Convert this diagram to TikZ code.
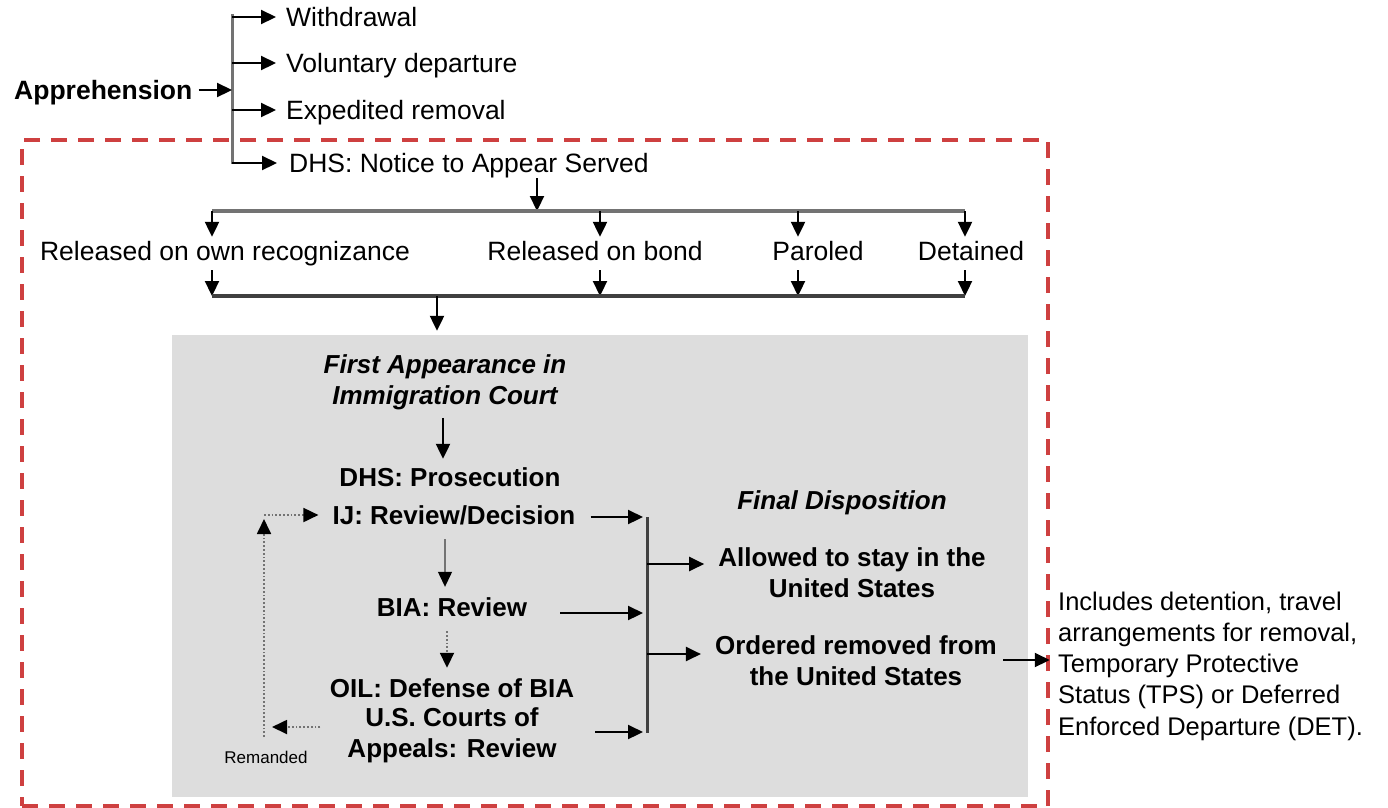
\documentclass[tikz,border=0pt]{standalone}
\usepackage{fontspec}
\setmainfont{Liberation Sans}
\usetikzlibrary{arrows.meta,calc}
\definecolor{scopered}{RGB}{206,64,64}
\definecolor{boxgray}{RGB}{221,221,221}
\begin{document}
\begin{tikzpicture}[x=1pt,y=-1pt,
  fixh/.style={text height=19pt,text depth=1pt},
  txt/.style={inner sep=0pt,fixh,font=\fontsize{26.5}{31}\selectfont},
  btxt/.style={inner sep=0pt,font=\fontsize{26}{31}\selectfont\bfseries,align=center},
  itxt/.style={inner sep=0pt,font=\fontsize{26}{31}\selectfont\bfseries\itshape,align=center},
  arr/.style={line width=2.2pt,-{Triangle[length=15pt,width=14pt]}},
  thinarr/.style={line width=1.2pt,draw=black!55,-{Triangle[length=15pt,width=14pt,color=black]}},
  dotarr/.style={line width=1.8pt,draw=black!55,dotted,-{Triangle[length=15pt,width=14pt,color=black]}},
  bar/.style={line width=3.5pt,draw=black!55},
  darkbar/.style={line width=3.5pt,draw=black!75},
]
\useasboundingbox (0,0) rectangle (1388,807);

% gray court box and red dashed scope
\node[fill=boxgray,inner sep=0pt,minimum width=856pt,minimum height=462pt] (gbox) at (600,566) {};
\node[draw=scopered,line width=3.5pt,dash pattern=on 16pt off 11pt,inner sep=0pt,minimum width=1026pt,minimum height=666pt] (scopebox) at (535,473) {};

% apprehension branch
\node[inner sep=0pt,fixh,font=\fontsize{26.5}{31}\selectfont\bfseries,anchor=west] (appr) at (14,90) {Apprehension};
\coordinate (vt) at (232,14);
\coordinate (vb) at (232,164);
\coordinate (vm) at (232,90);
\draw[bar,line width=3pt] (vt) -- (vb);
\draw[arr,shorten <=6pt] (appr.east) -- (vm);
\node[txt,anchor=west] (wd) at (286,17) {Withdrawal};
\node[txt,anchor=west] (vd) at (286,63) {Voluntary departure};
\node[txt,anchor=west] (er) at (286,110) {Expedited removal};
\node[txt,anchor=west] (nta) at (289,163) {DHS: Notice to Appear Served};
\draw[arr,shorten >=10pt] (vt |- wd) -- (wd.west);
\draw[arr,shorten >=10pt] (vt |- vd) -- (vd.west);
\draw[arr,shorten >=10pt] (vt |- er) -- (er.west);
\draw[arr,shorten >=12pt] (vt |- nta) -- (nta.west);

% release options
\coordinate (t0) at (537,211);
\coordinate (t1) at (212,211);
\coordinate (t2) at (600,211);
\coordinate (t3) at (798,211);
\coordinate (t4) at (965,211);
\coordinate (b1) at (212,296);
\coordinate (b2) at (600,296);
\coordinate (b3) at (798,296);
\coordinate (b4) at (965,296);
\coordinate (bm) at (437,296);
\draw[arr,shorten <=5pt] (nta.south -| t0) -- (t0);
\draw[bar,line width=4.5pt] (t1) -- (t4);
\node[txt] (ror) at (225,251) {Released on own recognizance};
\node[txt] (rob) at (595,251) {Released on bond};
\node[txt] (par) at (818,251) {Paroled};
\node[txt] (det) at (971,251) {Detained};
\foreach \i/\n in {1/ror,2/rob,3/par,4/det}{
  \draw[arr,shorten >=4pt] (t\i) -- (t\i |- \n.north);
  \draw[arr,shorten <=9pt] (t\i |- \n.south) -- (b\i);
}
\draw[darkbar] (b1) -- (b4);
\draw[arr,shorten >=4pt] (bm) -- (bm |- gbox.north);

% court process
\coordinate (c1) at (443,0);
\coordinate (c2) at (445,0);
\coordinate (c3) at (447,0);
\node[itxt] (fa) at (445,382) {First Appearance in\\Immigration Court};
\node[btxt,fixh] (dhs) at (450,477) {DHS: Prosecution};
\node[btxt,fixh] (ij) at (454,515) {IJ: Review/Decision};
\node[btxt,fixh] (bia) at (452,607) {BIA: Review};
\node[btxt,fixh] (oil) at (452,688) {OIL: Defense of BIA};
\node[btxt] (usc) at (452,735) {U.S. Courts of\\Appeals: Review};
\draw[arr,shorten <=8pt,shorten >=8pt] (fa.south -| c1) -- (dhs.north -| c1);
\draw[thinarr,shorten <=14pt,shorten >=10pt] (ij.south -| c2) -- (bia.north -| c2);
\draw[dotarr,shorten <=14pt,shorten >=10pt] (bia.south -| c3) -- (oil.north -| c3);

% remanded loop
\coordinate (rl) at (272,727);
\coordinate (rb) at (264,737);
\coordinate (rt) at (264,519);
\coordinate (rj) at (264,515);
\draw[dotarr,shorten <=27pt] (usc.west |- rl) -- (rl);
\draw[dotarr] (rb) -- (rt);
\draw[dotarr,shorten >=14pt] (rj) -- (ij.west);
\node[inner sep=0pt,font=\fontsize{17}{20}\selectfont] (rem) at (266,757) {Remanded};

% final disposition
\coordinate (jt) at (647,517);
\coordinate (jb) at (647,733);
\coordinate (ys) at (0,564);
\coordinate (yo) at (0,654);
\coordinate (yn) at (0,660);
\coordinate (uscout) at (595,732);
\draw[darkbar,line width=3pt] (jt) -- (jb);
\draw[arr,shorten <=15pt,shorten >=4pt] (ij.east |- jt) -- (jt);
\draw[arr,shorten >=4pt] ($(bia.east)+(33,6)$) -- ($(bia.east -| jt)+(0,6)$);
\draw[arr,shorten >=4pt] (uscout) -- (uscout -| jt);
\node[itxt,fixh] (fd) at (842,500) {Final Disposition};
\node[btxt] (stay) at (852,573) {Allowed to stay in the\\United States};
\node[btxt] (ord) at (856,661) {Ordered removed from\\the United States};
\draw[arr,shorten >=14pt] (jt |- ys) -- (stay.west |- ys);
\draw[arr,shorten >=14pt] (jt |- yo) -- (ord.west |- yo);

% note
\node[inner sep=0pt,font=\fontsize{25.5}{31.3}\selectfont,align=left,anchor=west] (note) at (1058,666) {Includes detention, travel\\arrangements for removal,\\Temporary Protective\\Status (TPS) or Deferred\\Enforced Departure (DET).};
\draw[arr,line width=2pt,shorten <=6pt] (ord.east |- yn) -- (scopebox.east |- yn);
\end{tikzpicture}
\end{document}
